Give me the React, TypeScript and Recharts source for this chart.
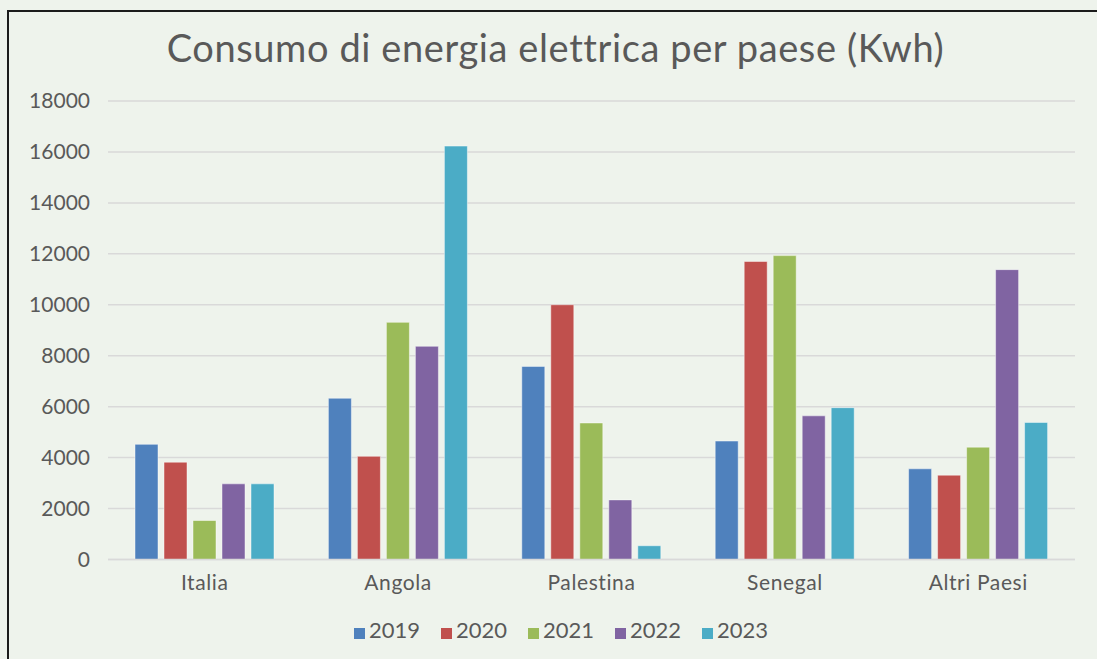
import React from 'react';
import { BarChart, Bar, XAxis, YAxis, CartesianGrid, Legend } from 'recharts';

const categories = ['Italia', 'Angola', 'Palestina', 'Senegal', 'Altri Paesi'];
const years = ['2019', '2020', '2021', '2022', '2023'];
const values2019 = [4520, 6330, 7580, 4650, 3560];
const values2020 = [3820, 4050, 10000, 11700, 3310];
const values2021 = [1530, 9310, 5360, 11930, 4410];
const values2022 = [2970, 8370, 2340, 5640, 11380];
const values2023 = [2970, 16230, 540, 5960, 5380];
const yTicks = [0, 2000, 4000, 6000, 8000, 10000, 12000, 14000, 16000, 18000];
const colors = ['#4F81BD', '#C0504D', '#9BBB59', '#8064A2', '#4BACC6'];

const seriesValues = [values2019, values2020, values2021, values2022, values2023];
const data = categories.map((c, i) => {
  const row: Record<string, string | number> = { name: c };
  years.forEach((y, k) => {
    row[y] = seriesValues[k][i];
  });
  return row;
});

const FONT = 'Lato, "Open Sans", sans-serif';
const TEXT = '#595959';

export default function App() {
  return (
    <div style={{ position: 'absolute', left: 0, top: 0, width: 1097, height: 659, background: '#EEF3EC', overflow: 'hidden', fontFamily: FONT }}>
      <div style={{ position: 'absolute', left: 7, top: 10, width: 1200, height: 800, borderTop: '2px solid #1b1b1b', borderLeft: '2px solid #1b1b1b' }} />
      <div style={{ position: 'absolute', left: 7, top: 24, width: 1097, textAlign: 'center', fontSize: 38, color: TEXT, letterSpacing: 0.6, lineHeight: '46px' }}>
        Consumo di energia elettrica per paese (Kwh)
      </div>
      <div style={{ position: 'absolute', left: 0, top: 0 }}>
        <BarChart width={1097} height={659} data={data} margin={{ top: 101, right: 22, left: 0, bottom: 16 }} barSize={23} barGap={6}>
          <CartesianGrid vertical={false} stroke="#D9D9D9" strokeWidth={1.5} />
          <XAxis dataKey="name" height={56.5} axisLine={{ stroke: '#D9D9D9', strokeWidth: 1.5 }} tickLine={false} tickSize={0} tickMargin={16}
            tick={{ fill: TEXT, fontSize: 21, fontFamily: FONT, letterSpacing: 0.6 }} />
          <YAxis width={108} domain={[0, 18000]} ticks={yTicks} axisLine={false} tickLine={false} tickSize={0} tickMargin={18}
            tick={{ fill: TEXT, fontSize: 21, fontFamily: FONT }} />
          <Legend verticalAlign="bottom" iconType="square" iconSize={11} wrapperStyle={{ left: 34 }}
            formatter={(v: string) => <span style={{ color: TEXT, fontSize: 22, fontFamily: FONT, marginRight: 11 }}>{v}</span>} />
          {years.map((y, k) => (
            <Bar key={y} dataKey={y} fill={colors[k]} stroke="#ffffff" strokeOpacity={0.45} strokeWidth={1} isAnimationActive={false} />
          ))}
        </BarChart>
      </div>
    </div>
  );
}
